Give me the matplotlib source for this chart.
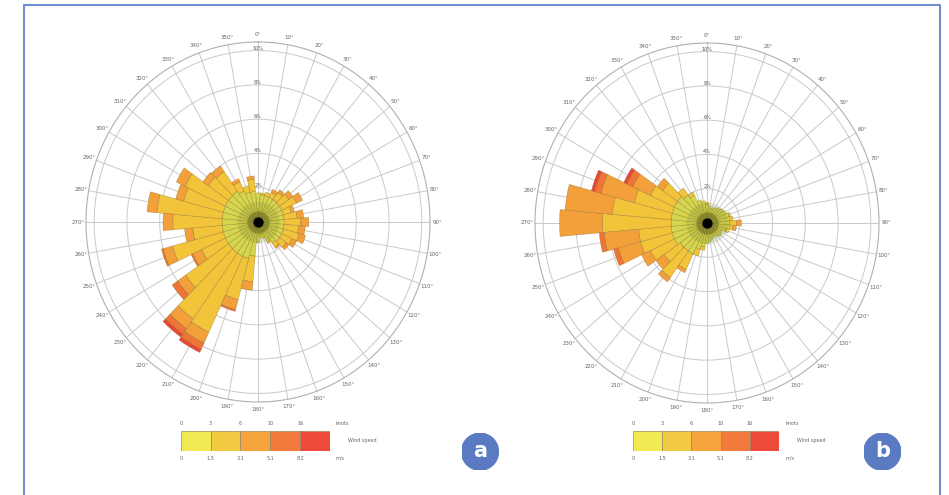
import numpy as np
import matplotlib
matplotlib.use('Agg')
import matplotlib.pyplot as plt
from matplotlib.lines import Line2D
from matplotlib.patches import Circle, Rectangle

W, H = 949, 495

directions = list(range(0, 360, 10))
ring_values = [1, 2, 3, 4, 5]
ring_labels = ['2%', '4%', '6%', '8%', '10%']
speed_colors = ['#d5d64e', '#f1c43a', '#f4a03a', '#ef7436', '#e94636']
legend_colors = ['#f1ea52', '#f2cb42', '#f5a43c', '#f4793c', '#ee4a3c']
knots_labels = ['0', '3', '6', '10', '16']
ms_labels = ['0', '1.5', '3.1', '5.1', '8.2']

# panel a, frequency per speed class, one value per 10 deg direction (0..350)
a_c1 = [0.85, 0.8, 0.8, 0.8, 0.8, 0.8, 0.8, 0.8, 0.8, 0.8, 0.8, 0.8,
        0.8, 0.8, 0.75, 0.65, 0.5, 0.45, 0.6, 1.0, 1.1, 1.1, 1.1, 1.1,
        1.1, 1.1, 1.1, 1.1, 1.1, 1.1, 1.1, 1.1, 1.1, 1.0, 0.9, 0.9]
a_c2 = [0, 0.05, 0.1, 0.15, 0.25, 0.35, 0.5, 0.25, 0.4, 0.5, 0.45, 0.5,
        0.35, 0.25, 0.15, 0.05, 0, 0, 0, 0.75, 1.25, 2.45, 2.35, 1.6,
        0.8, 1.6, 0.9, 1.5, 2.0, 1.25, 1.35, 0.75, 0.7, 0.3, 0.2, 0.35]
a_c3 = [0, 0, 0, 0.1, 0.1, 0.15, 0.2, 0.1, 0.2, 0.25, 0.2, 0.2,
        0.15, 0.1, 0.05, 0, 0, 0, 0, 0.25, 0.3, 0.35, 0.35, 0.3,
        0.3, 0.3, 0.25, 0.3, 0.3, 0.25, 0.3, 0.2, 0.2, 0.1, 0, 0.1]
a_c4 = [0, 0, 0, 0, 0, 0, 0, 0, 0, 0, 0, 0,
        0, 0, 0, 0, 0, 0, 0, 0, 0.05, 0.2, 0.2, 0.2,
        0.05, 0.05, 0, 0, 0, 0, 0, 0, 0, 0, 0, 0]
a_c5 = [0, 0, 0, 0, 0, 0, 0, 0, 0, 0, 0, 0,
        0, 0, 0, 0, 0, 0, 0, 0, 0, 0.1, 0.1, 0,
        0, 0, 0, 0, 0, 0, 0, 0, 0, 0, 0, 0]

# panel b
b_c1 = [0.55, 0.5, 0.45, 0.5, 0.55, 0.6, 0.65, 0.7, 0.7, 0.7, 0.7, 0.6,
        0.5, 0.55, 0.5, 0.45, 0.5, 0.55, 0.6, 0.7, 0.8, 1.0, 1.0, 1.0,
        1.1, 1.1, 1.1, 1.1, 1.1, 1.1, 1.1, 1.1, 1.0, 0.9, 0.7, 0.65]
b_c2 = [0.05, 0, 0, 0, 0, 0, 0, 0.05, 0.1, 0.2, 0.1, 0.1,
        0, 0, 0, 0, 0, 0, 0, 0.1, 0.2, 0.5, 0.95, 0.6,
        0.8, 1.0, 1.0, 2.1, 1.8, 1.2, 0.8, 0.55, 0.25, 0.1, 0, 0]
b_c3 = [0, 0, 0, 0, 0, 0, 0, 0, 0, 0.15, 0.1, 0,
        0, 0, 0, 0, 0, 0, 0, 0, 0, 0.1, 0.15, 0.3,
        0.3, 0.7, 1.05, 1.3, 1.45, 1.05, 0.6, 0.2, 0, 0, 0, 0]
b_c4 = [0, 0, 0, 0, 0, 0, 0, 0, 0, 0, 0, 0,
        0, 0, 0, 0, 0, 0, 0, 0, 0, 0, 0, 0,
        0, 0.15, 0.15, 0, 0, 0.2, 0.2, 0, 0, 0, 0, 0]
b_c5 = [0, 0, 0, 0, 0, 0, 0, 0, 0, 0, 0, 0,
        0, 0, 0, 0, 0, 0, 0, 0, 0, 0, 0, 0,
        0, 0, 0, 0, 0, 0.1, 0.1, 0, 0, 0, 0, 0]


def px_box(cx, cy, rx, ry):
    return [(cx - rx) / W, (H - cy - ry) / H, 2 * rx / W, 2 * ry / H]


def draw_rose(ax, classes):
    theta = np.deg2rad(directions)
    width = np.deg2rad(10)
    bottom = np.zeros(len(directions))
    for vals, col in zip(classes, speed_colors):
        vals = np.array(vals, dtype=float)
        m = vals > 0
        ax.bar(theta[m], vals[m], width=width, bottom=bottom[m], color=col,
               edgecolor=(0.45, 0.35, 0.1, 0.45), linewidth=0.4, zorder=3)
        bottom += vals
    # dark calm centre
    ax.scatter([0], [0], s=900, color=(0.35, 0.4, 0.05, 0.15), zorder=4, lw=0)
    ax.scatter([0], [0], s=260, color=(0.2, 0.22, 0.02, 0.3), zorder=4, lw=0)
    ax.scatter([0], [0], s=55, color='black', zorder=5, lw=0)

    ax.set_theta_zero_location('N')
    ax.set_theta_direction(-1)
    ax.set_ylim(0, 5.25)
    ax.set_aspect('auto')
    ax.set_axisbelow(True)
    ax.set_thetagrids(directions, [f'{d}°' for d in directions],
                      fontsize=4, color='#666666')
    ax.set_rgrids(ring_values, ring_labels, angle=0, fontsize=3.5,
                  color='#555555', ha='center')
    ax.grid(color='#c9c9c9', linewidth=0.7)
    ax.spines['polar'].set_color('#b0b0b0')
    ax.spines['polar'].set_linewidth(0.8)
    ax.tick_params(axis='x', pad=-5)


def draw_scale(x0, x1):
    lax = fig.add_axes([x0 / W, (H - 451) / H, (x1 - x0) / W, 20.3 / H])
    for i, col in enumerate(legend_colors):
        lax.add_patch(Rectangle((i, 0), 1, 1, facecolor=col,
                                edgecolor='#9a8a60', linewidth=0.5))
        lax.text(i, 1.35, knots_labels[i], ha='center', va='center',
                 fontsize=3.5, color='#666666')
        lax.text(i, -0.35, ms_labels[i], ha='center', va='center',
                 fontsize=3.5, color='#666666')
    lax.text(5.2, 1.35, 'knots', ha='left', va='center', fontsize=3.5, color='#666666')
    lax.text(5.2, -0.35, 'm/s', ha='left', va='center', fontsize=3.5, color='#666666')
    lax.text(5.6, 0.5, 'Wind speed', ha='left', va='center', fontsize=3.5, color='#666666')
    lax.set_xlim(0, 5)
    lax.set_ylim(0, 1)
    lax.axis('off')


def draw_badge(cx, cy, letter):
    r = 18.5
    bax = fig.add_axes(px_box(cx, cy, r, r))
    bax.add_patch(Circle((0, 0), 1, color='#5a7bc2'))
    bax.text(0, 0.02, letter, ha='center', va='center', fontsize=15,
             color='white', fontweight='bold')
    bax.set_xlim(-1, 1)
    bax.set_ylim(-1, 1)
    bax.axis('off')


fig = plt.figure(figsize=(W / 100, H / 100), dpi=100)

ax_a = fig.add_axes(px_box(258, 222, 172, 180), projection='polar')
draw_rose(ax_a, [a_c1, a_c2, a_c3, a_c4, a_c5])
ax_b = fig.add_axes(px_box(707, 223, 172, 180), projection='polar')
draw_rose(ax_b, [b_c1, b_c2, b_c3, b_c4, b_c5])

draw_scale(180.7, 330)
draw_scale(632.7, 779.3)
draw_badge(480, 451.7, 'a')
draw_badge(882.3, 451.7, 'b')

fig.add_artist(Line2D([24 / W, 24 / W, 940 / W, 940 / W], [0, 1 - 5 / H, 1 - 5 / H, 0],
                      transform=fig.transFigure, color='#6f8ecf', linewidth=1.5))

fig.savefig('out.png', dpi=100)
